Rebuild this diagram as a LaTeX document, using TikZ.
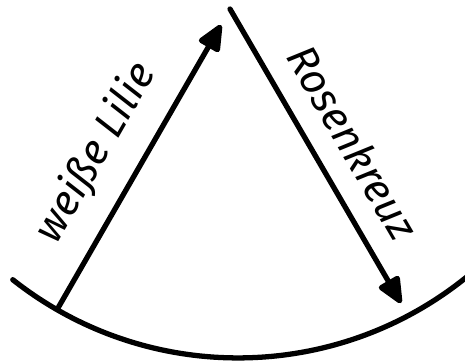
\documentclass[tikz,border=0pt]{standalone}
\usepackage{fontspec}
\setmainfont{Fira Sans}
\usetikzlibrary{arrows.meta}
\tikzset{
  stroke/.style={line width=3pt, line cap=round},
  pointer/.style={stroke, -{Triangle[length=0.6cm, width=0.5cm, round]}},
  tag/.style={font=\fontsize{24}{28}\selectfont\itshape, sloped, above=0.3cm}
}
\begin{document}
\begin{tikzpicture}[x=0.02cm, y=0.02cm]
    \useasboundingbox (0,0) rectangle (465,360);
    \coordinate (centre) at (238,365.5);
    \coordinate (base) at (58,52);
    \coordinate (apex) at (221,335);
    \coordinate (top) at (230,351);
    \coordinate (tip) at (401,57);
    \draw[stroke] (centre) ++(231.7:7.27cm) arc[start angle=231.7, end angle=309, radius=7.27cm];
    \draw[pointer] (base) -- (apex) node[tag, pos=0.47] (lilie) {weiße Lilie};
    \draw[pointer] (top) -- (tip) node[tag, pos=0.52] (kreuz) {Rosenkreuz};
\end{tikzpicture}
\end{document}
